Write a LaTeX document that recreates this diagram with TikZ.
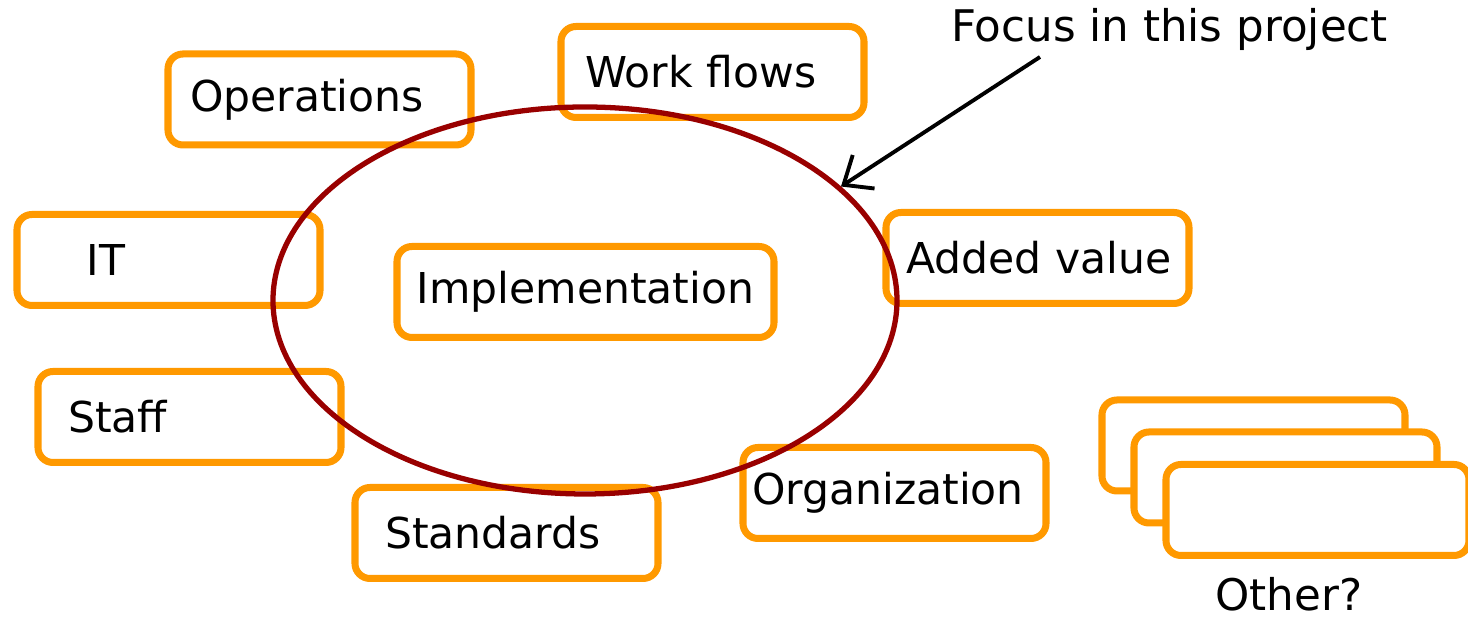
\documentclass[tikz,border=0pt]{standalone}
\usepackage{fontspec}
\setmainfont{DejaVu Sans}
\usetikzlibrary{shapes.geometric, arrows.meta, positioning}
\definecolor{boxorange}{HTML}{FF9900}
\definecolor{focusred}{HTML}{990000}

\begin{document}
\begin{tikzpicture}[
  box/.style={rectangle, rounded corners=0.15cm, draw=boxorange, line width=2pt, fill=white,
    minimum width=3.03cm, minimum height=0.91cm, inner xsep=0pt, text width=3.03cm, align=left,
    font=\fontsize{12.1}{14}\selectfont},
  focus/.style={ellipse, draw=focusred, line width=1.5pt, minimum width=6.24cm, minimum height=3.87cm, inner sep=0pt},
  path/.style={-{Straight Barb[length=2.4mm, width=4mm]}, line width=1.1pt},
  lbl/.style={font=\fontsize{12.4}{14}\selectfont, inner sep=1pt}
]
\useasboundingbox (0,0) rectangle (14.68,-6.19);

\node[box] (ops) at (3.195,-0.995) {\hspace*{0.22cm}Operations};
\node[box] (flows) at (7.125,-0.72) {\hspace*{0.24cm}Work flows};
\node[box] (it) at (1.685,-2.60) {\hspace*{0.70cm}IT};
\node[box, minimum width=3.77cm, text width=3.77cm, align=center] (impl) at (5.855,-2.92) {Implementation};
\node[box] (value) at (10.375,-2.58) {\hspace*{0.20cm}Added value};
\node[box] (staff) at (1.895,-4.17) {\hspace*{0.30cm}Staff};
\node[box] (std) at (5.065,-5.33) {\hspace*{0.30cm}Standards};
\node[box] (org) at (8.945,-4.93) {\hspace*{0.09cm}Organization};

% Other boxes
\node[box] (other1) at (12.535,-4.455) {};
\node[box] (other2) at (12.855,-4.775) {};
\node[box] (other3) at (13.175,-5.10) {};
\node[lbl, inner sep=0pt] (othertxt) at (12.89,-5.94) {Other?};

\node[focus] (area) at (5.85,-3.005) {};
\node[lbl, anchor=west] (note) at (9.47,-0.29) {Focus in this project};
\coordinate (start) at (10.40,-0.57);

% Arrows
\draw[path] (start) -- (area.24);

\end{tikzpicture}
\end{document}
